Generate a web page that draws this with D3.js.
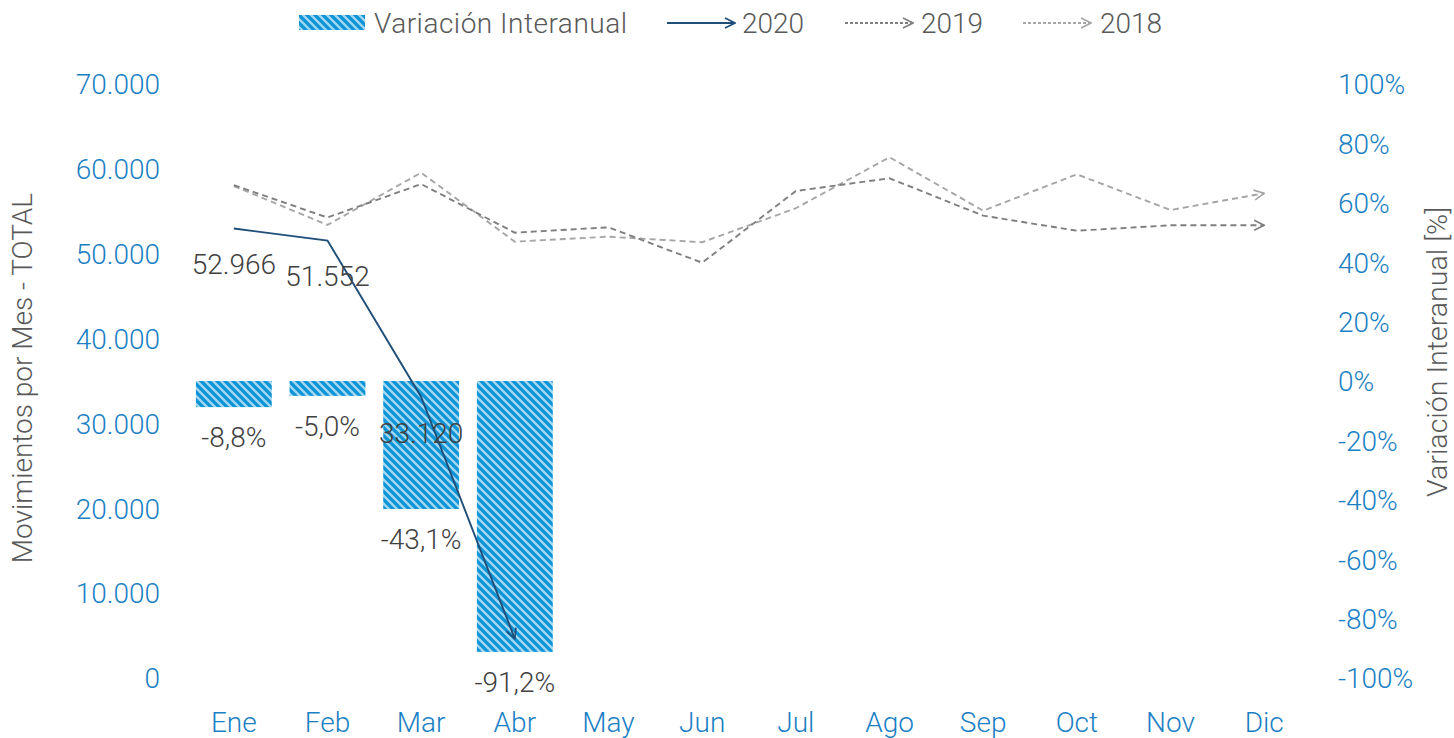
<!DOCTYPE html>
<html>
<head>
<meta charset="utf-8">
<script src="https://cdn.jsdelivr.net/npm/d3@7"></script>
<style>
  body { margin: 0; background: #fff; }
  svg text { font-family: Roboto, "Noto Sans", sans-serif; font-weight: 300; }
</style>
</head>
<body>
<div id="chart"></div>
<script>
// data
const months = ["Ene", "Feb", "Mar", "Abr", "May", "Jun", "Jul", "Ago", "Sep", "Oct", "Nov", "Dic"]
const mov2020 = [52966, 51552, 33120, 4618]
const mov2019 = [58077, 54265, 58207, 52480, 53110, 48940, 57390, 58890, 54480, 52710, 53350, 53350]
const mov2018 = [57980, 53390, 59550, 51420, 52010, 51350, 55360, 61370, 55070, 59360, 55150, 57120]
const variacion = [-0.088, -0.050, -0.431, -0.912]
const leftTicks = [0, 10000, 20000, 30000, 40000, 50000, 60000, 70000]
const rightTicks = [-1, -0.8, -0.6, -0.4, -0.2, 0, 0.2, 0.4, 0.6, 0.8, 1]

const width = 1454, height = 738
const blue = "#1b7fc4", grey = "#595959"
const col2020 = "#1f4e79", col2019 = "#7f7f7f", col2018 = "#a6a6a6"

const svg = d3.select("#chart").append("svg")
  .attr("width", width)
  .attr("height", height)

// bar pattern
const defs = svg.append("defs")
const pat = defs.append("pattern")
  .attr("id", "hatch")
  .attr("patternUnits", "userSpaceOnUse")
  .attr("width", 8).attr("height", 8)
pat.append("rect").attr("width", 8).attr("height", 8).attr("fill", "#0c94d6")
pat.append("path")
  .attr("d", "M-2,-2 L10,10 M-2,6 L2,10 M6,-2 L10,2")
  .attr("stroke", "#9fd6f2")
  .attr("stroke-width", 2.4)

const markerFor = (id, color) => {
  defs.append("marker")
    .attr("id", id)
    .attr("viewBox", "0 0 12 12")
    .attr("refX", 11).attr("refY", 6)
    .attr("markerWidth", 12).attr("markerHeight", 12)
    .attr("markerUnits", "userSpaceOnUse")
    .attr("orient", "auto")
    .append("path")
      .attr("d", "M1,1 L11,6 L1,11")
      .attr("fill", "none")
      .attr("stroke", color)
      .attr("stroke-width", 1.6)
}
markerFor("arr2020", col2020)
markerFor("arr2019", col2019)
markerFor("arr2018", col2018)

const x = d3.scaleBand()
  .domain(months)
  .range([187, 1311])
  .paddingInner(0.19)
  .paddingOuter(0.095)
const cx = m => x(m) + x.bandwidth() / 2

const yL = d3.scaleLinear().domain([0, 70000]).range([678, 84])
const yR = d3.scaleLinear().domain([-1, 1]).range([678, 84])

const esLocale = d3.formatLocale({ decimal: ",", thousands: ".", grouping: [3], currency: ["", ""], minus: "-" })
const fmtThousands = esLocale.format(",.0f")
const fmtPct = esLocale.format(".1%")
const fmtTickPct = esLocale.format(".0%")

// left axis
const axL = svg.append("g")
  .attr("transform", "translate(160,0)")
  .call(d3.axisLeft(yL).tickValues(leftTicks).tickSize(0).tickPadding(0).tickFormat(fmtThousands))
axL.select(".domain").remove()
axL.selectAll("text").attr("fill", blue).attr("font-size", 28).attr("dy", "0.35em")

// right axis
const axR = svg.append("g")
  .attr("transform", "translate(1338,0)")
  .call(d3.axisRight(yR).tickValues(rightTicks).tickSize(0).tickPadding(0).tickFormat(fmtTickPct))
axR.select(".domain").remove()
axR.selectAll("text").attr("fill", blue).attr("font-size", 28).attr("dy", "0.35em")

// bottom axis
const axB = svg.append("g")
  .attr("transform", "translate(0,711)")
  .call(d3.axisBottom(x).tickSize(0).tickPadding(0))
axB.select(".domain").remove()
axB.selectAll("text").attr("fill", blue).attr("font-size", 28).attr("dy", "0.75em")

// axis titles
svg.append("text")
  .attr("transform", "translate(32,378) rotate(-90)")
  .attr("text-anchor", "middle")
  .attr("fill", grey)
  .attr("font-size", 28)
  .text("Movimientos por Mes - TOTAL")
svg.append("text")
  .attr("transform", "translate(1447,352) rotate(-90)")
  .attr("text-anchor", "middle")
  .attr("fill", grey)
  .attr("font-size", 28)
  .attr("textLength", 290)
  .attr("lengthAdjust", "spacingAndGlyphs")
  .text("Variación Interanual [%]")

// bars
const barData = variacion.map((v, i) => ({ m: months[i], v }))
svg.append("g").selectAll("rect")
  .data(barData)
  .join("rect")
    .attr("x", d => x(d.m))
    .attr("width", x.bandwidth())
    .attr("y", d => yR(Math.max(0, d.v)))
    .attr("height", d => Math.abs(yR(d.v) - yR(0)))
    .attr("fill", "url(#hatch)")

// lines
const line = d3.line().x(d => cx(d.m)).y(d => yL(d.v))
const series = [
  { data: mov2018, color: col2018, dash: "6,4", marker: "arr2018", w: 1.9 },
  { data: mov2019, color: col2019, dash: "6,4", marker: "arr2019", w: 1.9 },
  { data: mov2020, color: col2020, dash: null, marker: "arr2020", w: 1.9 }
]
series.forEach(s => {
  svg.append("path")
    .datum(s.data.map((v, i) => ({ m: months[i], v })))
    .attr("fill", "none")
    .attr("stroke", s.color)
    .attr("stroke-width", s.w)
    .attr("stroke-dasharray", s.dash)
    .attr("marker-end", `url(#${s.marker})`)
    .attr("d", line)
})

// labels for 2020 (first three)
svg.append("g").selectAll("text")
  .data(mov2020.slice(0, 3).map((v, i) => ({ m: months[i], v })))
  .join("text")
    .attr("x", d => cx(d.m))
    .attr("y", d => yL(d.v) + 36)
    .attr("dy", "0.35em")
    .attr("text-anchor", "middle")
    .attr("fill", "#404040")
    .attr("font-size", 28)
    .text(d => fmtThousands(d.v))

// labels for bars
svg.append("g").selectAll("text")
  .data(barData)
  .join("text")
    .attr("x", d => cx(d.m))
    .attr("y", d => yR(d.v) + 30)
    .attr("dy", "0.35em")
    .attr("text-anchor", "middle")
    .attr("fill", "#404040")
    .attr("font-size", 28)
    .text(d => fmtPct(d.v))

// legend
const lg = svg.append("g").attr("font-size", 28).attr("fill", grey)
lg.append("rect").attr("x", 299).attr("y", 15).attr("width", 66).attr("height", 15).attr("fill", "url(#hatch)")
lg.append("text").attr("x", 374).attr("y", 23).attr("dy", "0.35em").attr("textLength", 253).text("Variación Interanual")
const legendLines = [
  { x0: 667, x1: 735, tx: 742, label: "2020", s: series[2] },
  { x0: 845, x1: 913, tx: 921, label: "2019", s: series[1] },
  { x0: 1023, x1: 1091, tx: 1100, label: "2018", s: series[0] }
]
legendLines.forEach(l => {
  lg.append("line")
    .attr("x1", l.x0).attr("x2", l.x1)
    .attr("y1", 23).attr("y2", 23)
    .attr("stroke", l.s.color)
    .attr("stroke-width", l.s.w)
    .attr("stroke-dasharray", l.s.dash ? "3,2" : null)
    .attr("marker-end", `url(#${l.s.marker})`)
  lg.append("text").attr("x", l.tx).attr("y", 23).attr("dy", "0.35em").text(l.label)
})
</script>
</body>
</html>
